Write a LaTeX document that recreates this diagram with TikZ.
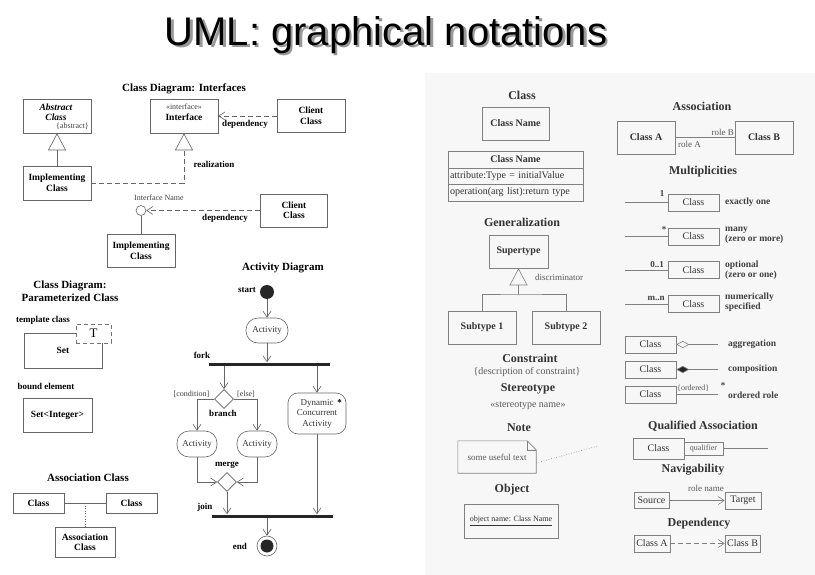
\documentclass[tikz,border=0pt]{standalone}
\usepackage{fontspec}
\setmainfont{Liberation Serif}
\setsansfont{Liberation Sans}
\usetikzlibrary{arrows.meta,shapes.geometric}
\begin{document}
\begin{tikzpicture}[x=1pt,y=-1pt,
  ln/.style={draw=black!60, line width=0.6pt},
  lb/.style={ln, rectangle, inner sep=1pt, align=center, text=black, font=\fontsize{9.5}{10.5}\selectfont\bfseries},
  ttl/.style={font=\fontsize{11}{13}\selectfont\bfseries, inner sep=0pt, align=center},
  lab/.style={font=\fontsize{9}{10}\selectfont\bfseries, inner sep=0pt},
  sm/.style={font=\fontsize{8}{9}\selectfont, inner sep=0pt, text=black!75},
  act/.style={ln, rectangle, rounded corners=12pt, inner sep=1pt, align=center, font=\fontsize{9}{10.5}\selectfont, text=black!80},
  dia/.style={ln, diamond, minimum size=19pt, inner sep=0pt},
  bar/.style={fill=black!85, inner sep=0pt, minimum height=3pt},
  arr/.style={ln, -{Straight Barb[length=6pt,width=8pt]}},
  gen/.style={ln, -{Triangle[open,length=17pt,width=18pt]}},
  dsh/.style={dash pattern=on 5pt off 3pt},
  rb/.style={draw=black!50, line width=0.6pt, rectangle, inner sep=1pt, align=center, text=black!80, font=\fontsize{10}{11}\selectfont},
  rbb/.style={rb, font=\fontsize{10}{11}\selectfont\bfseries},
  rt/.style={font=\fontsize{12}{13}\selectfont\bfseries, text=black!80, inner sep=0pt},
  rs/.style={font=\fontsize{9}{10}\selectfont, text=black!65, inner sep=0pt},
  rm/.style={font=\fontsize{9}{10}\selectfont\bfseries, text=black!75, inner sep=0pt},
  rd/.style={font=\fontsize{9.5}{10}\selectfont\bfseries, text=black!75, inner sep=0pt, align=left, anchor=west}
]
\useasboundingbox (0,0) rectangle (815,575);
\fill[white] (0,0) rectangle (815,575);
\fill[black!3] (425,73) rectangle (815,575);

% Title with drop shadow (one node)
\node[font=\fontsize{40}{44}\selectfont\sffamily, text=black, inner sep=0pt] (title) at (386,36)
  {\makebox[0pt][l]{\raisebox{-2.5pt}{\hspace{2.5pt}\textcolor{black!40}{UML: graphical notations}}}UML: graphical notations};

% ---- Class Diagram: Interfaces
\node[ttl] (t1) at (184,89) {Class Diagram: Interfaces};
\node[lb, minimum width=68, minimum height=34] (abs) at (57,116) {};
\node[font=\fontsize{9.5}{10}\selectfont\bfseries\itshape, align=center, inner sep=0pt] (abst) at (56,112) {Abstract\\Class};
\node[sm, anchor=east] (absl) at (89,126) {\{abstract\}};
\node[lb, minimum width=68, minimum height=34] (impl) at (57,183) {Implementing\\Class};
\draw[gen] (impl) -- (abs);
\node[lb, minimum width=68, minimum height=34] (iface) at (184,116) {};
\node[sm] (ifs) at (184,107) {«interface»};
\node[lab, font=\fontsize{9.5}{10}\selectfont\bfseries] (ifn1) at (184,117) {Interface};
\draw[gen, dsh] (impl.east) -| (iface.south);
\node[lb, minimum width=68, minimum height=33] (cl1) at (311,116) {Client\\Class};
\draw[arr, dsh] (cl1) -- (iface);
\node[lab] (dep1) at (245,124) {dependency};
\node[lab] (real) at (214,164) {realization};

\node[sm] (ifn) at (159,198) {Interface Name};
\node[ln, circle, minimum size=10, inner sep=0pt] (lol) at (141,210.5) {};
\node[lb, minimum width=68, minimum height=33] (impl2) at (141,251) {Implementing\\Class};
\draw[ln] (lol) -- (impl2);
\node[lb, minimum width=67, minimum height=33] (cl2) at (294,210.5) {Client\\Class};
\draw[arr, dsh] (cl2) -- (lol);
\node[lab] (dep2) at (225,218) {dependency};

% ---- Parameterized class
\node[ttl] (t2) at (70,291) {Class Diagram:\\Parameterized Class};
\node[lab] (tcl) at (43,320) {template class};
\node[lb, minimum width=78, minimum height=35] (set) at (63,350.5) {\raisebox{-2pt}{Set}};
\node[draw=black!55, dash pattern=on 4pt off 3pt, fill=white, minimum width=35, minimum height=19, font=\fontsize{13}{13}\selectfont, inner sep=0pt] (T) at (93.5,333.5) {T};
\node[lab] (bnd) at (46,386) {bound element};
\node[lb, minimum width=69, minimum height=34] (seti) at (57.5,415) {Set<Integer>};

% ---- Association class
\node[ttl] (t3) at (88,478) {Association Class};
\node[lb, minimum width=51, minimum height=20] (ac1) at (38.5,503) {Class};
\node[lb, minimum width=51, minimum height=20] (ac2) at (131.5,503) {Class};
\draw[ln] (ac1) -- (ac2);
\node[lb, minimum width=60, minimum height=30] (acc) at (85,542) {Association\\Class};
\coordinate (acm) at (85,503);
\draw[ln, dotted] (acm) -- (acc);

% ---- Activity diagram
\node[ttl] (t4) at (283,268) {Activity Diagram};
\node[lab] (stl) at (247,290) {start};
\node[circle, fill=black!85, minimum size=14, inner sep=0pt] (st) at (267,292) {};
\node[act, minimum width=42, minimum height=25] (a1) at (267,330.5) {Activity};
\draw[arr] (st) -- (a1);
\node[bar, minimum width=121] (fork) at (269.5,364) {};
\node[lab] (forkl) at (202,355) {fork};
\draw[arr] (a1) -- (a1 |- fork.north);
\node[dia] (br) at (224,399) {};
\draw[arr] (br |- fork.south) -- (br.north);
\node[sm] (cnd) at (191.5,394) {[condition]};
\node[sm] (els) at (246,394) {[else]};
\node[lab] (brl) at (223,413) {branch};
\node[act, minimum width=40, minimum height=26] (a2) at (197,444) {Activity};
\node[act, minimum width=40, minimum height=26] (a3) at (257,444) {Activity};
\draw[arr] (br.west) -| (a2.north);
\draw[arr] (br.east) -| (a3.north);
\node[lab] (mgl) at (227,465) {merge};
\node[dia] (mg) at (227,482) {};
\draw[arr] (a2.south) |- (mg.west);
\draw[arr] (a3.south) |- (mg.east);
\node[bar, minimum width=121] (join) at (272.5,516) {};
\node[lab] (joinl) at (205,507) {join};
\draw[arr] (mg.south) -- (mg.south |- join.north);
\node[act, rounded corners=10pt, minimum width=58, minimum height=41] (dyn) at (317,413.5) {Dynamic\\Concurrent\\Activity};
\draw[arr] (dyn.north |- fork.south) -- (dyn.north);
\draw[arr] (dyn.south) -- (dyn.south |- join.north);
\node[font=\fontsize{9}{9}\selectfont\bfseries, inner sep=0pt] (ast) at (339.5,403) {*};
\node[circle, ln, minimum size=20, inner sep=0pt] (en) at (267,546) {};
\node[circle, fill=black!85, minimum size=13, inner sep=0pt] (enin) at (267,546) {};
\draw[arr] (en.north |- join.south) -- (en.north);
\node[lab] (enl) at (240,546) {end};

% ---- Right panel: Class
\node[rt] (rt1) at (522,95) {Class};
\node[rbb, minimum width=67, minimum height=33] (c1) at (515.5,123.5) {Class Name};
\node[rbb, minimum width=135, minimum height=17] (c2a) at (515.5,159.5) {Class Name};
\node[rb, minimum width=135, minimum height=16, text width=131, align=left] (c2b) at (515.5,176) {attribute:Type = initialValue};
\node[rb, minimum width=135, minimum height=17, text width=131, align=left] (c2c) at (515.5,192.5) {operation(arg list):return type};

% Generalization
\node[rt] (rt2) at (522,222) {Generalization};
\node[rbb, minimum width=59, minimum height=33] (sup) at (518.5,251.5) {Supertype};
\node[rbb, minimum width=68, minimum height=33] (sub1) at (482,327.5) {Subtype 1};
\node[rbb, minimum width=68, minimum height=33] (sub2) at (566,327.5) {Subtype 2};
\coordinate (gj) at (518.5,294);
\draw[ln, draw=black!50] (sub1.north) |- (gj) -| (sub2.north);
\draw[gen, draw=black!50] (gj) -- (sup.south);
\node[rs] (disc) at (559,277) {discriminator};

% Constraint, Stereotype
\node[rt] (rt3) at (530,358) {Constraint};
\node[rs, font=\fontsize{10}{11}\selectfont] (cons) at (527,372) {\{description of constraint\}};
\node[rt] (rt4) at (528,389) {Stereotype};
\node[rs, font=\fontsize{10}{11}\selectfont] (ster) at (528,406) {«stereotype name»};

% Note
\node[rt] (rt5) at (519,428) {Note};
\node[rs, minimum width=78, minimum height=32] (note) at (497,457) {some useful text};
\draw[ln, draw=black!50] (note.north west) -- ([xshift=-9pt]note.north east) -- ([yshift=-9pt]note.north east) -- (note.south east) -- (note.south west) -- cycle;
\draw[ln, draw=black!50] ([xshift=-9pt]note.north east) |- ([yshift=-9pt]note.north east);
\coordinate (nend) at (598,446);
\draw[ln, draw=black!50, dotted] ([yshift=-6pt]note.east) -- (nend);

% Object
\node[rt] (rt6) at (512,490) {Object};
\node[rb, minimum width=94, minimum height=34, font=\fontsize{8}{9}\selectfont] (obj) at (511,521) {\underline{object name: Class Name}};

% Association
\node[rt] (rt7) at (702,106) {Association};
\node[rbb, minimum width=58, minimum height=33] (ca) at (646,137.5) {Class A};
\node[rbb, minimum width=58, minimum height=33] (cb) at (764,137.5) {Class B};
\draw[ln, draw=black!50] (ca) -- (cb);
\node[rs, anchor=south east] (rlb) at (734,136) {role B};
\node[rs, anchor=north west] (rla) at (678,141) {role A};

% Multiplicities
\node[rt] (rt8) at (703,172) {Multiplicities};
\node[rb, minimum width=51, minimum height=17] (m1) at (693.5,202.5) {Class};
\coordinate (m1s) at (625,202.5);
\draw[ln, draw=black!50] (m1s) -- (m1);
\node[rm] (m1l) at (662,194) {1};
\node[rd] (m1d) at (725,202) {exactly one};

\node[rb, minimum width=51, minimum height=17] (m2) at (693.5,236.5) {Class};
\coordinate (m2s) at (625,236.5);
\draw[ln, draw=black!50] (m2s) -- (m2);
\node[rm] (m2l) at (664,230) {*};
\node[rd] (m2d) at (725,235) {many\\(zero or more)};

\node[rb, minimum width=51, minimum height=17] (m3) at (693.5,270) {Class};
\coordinate (m3s) at (625,270);
\draw[ln, draw=black!50] (m3s) -- (m3);
\node[rm] (m3l) at (657,265) {0..1};
\node[rd] (m3d) at (725,270) {optional\\(zero or one)};

\node[rb, minimum width=51, minimum height=17] (m4) at (693.5,304) {Class};
\coordinate (m4s) at (625,304);
\draw[ln, draw=black!50] (m4s) -- (m4);
\node[rm] (m4l) at (656,298) {m..n};
\node[rd] (m4d) at (725,302) {numerically\\specified};

% Aggregation, composition, ordered
\node[rb, minimum width=51, minimum height=17] (ag) at (650.5,344.5) {Class};
\coordinate (age) at (718,344.5);
\draw[ln, draw=black!50, {Diamond[open,length=13pt,width=7pt]}-] (ag) -- (age);
\node[rd] (agd) at (728,344) {aggregation};

\node[rb, minimum width=51, minimum height=17] (cp) at (650.5,369.5) {Class};
\coordinate (cpe) at (718,369.5);
\draw[ln, draw=black!50, {Diamond[length=13pt,width=7pt,fill=black!85]}-] (cp) -- (cpe);
\node[rd] (cpd) at (728,369) {composition};

\node[rb, minimum width=51, minimum height=17] (ordc) at (650.5,394.5) {Class};
\coordinate (orde) at (718,394.5);
\draw[ln, draw=black!50] (ordc) -- (orde);
\node[rs, font=\fontsize{8}{9}\selectfont, anchor=west] (ordl) at (677,388) {\{ordered\}};
\node[rm] (ords) at (723,386) {*};
\node[rd] (ordd) at (728,395) {ordered role};

% Qualified association
\node[rt] (rt9) at (703,426) {Qualified Association};
\node[rb, minimum width=51, minimum height=21] (qc) at (658.5,448.5) {Class};
\node[rb, minimum width=39, minimum height=13, font=\fontsize{8}{8}\selectfont, inner sep=0.5pt, text=black!65] (q) at (703.5,448.5) {qualifier};
\coordinate (qe) at (768,448.5);
\draw[ln, draw=black!50] (q) -- (qe);

% Navigability
\node[rt] (rt10) at (693,470) {Navigability};
\node[rb, minimum width=35, minimum height=16] (src) at (651.5,500.5) {Source};
\node[rb, minimum width=36, minimum height=17] (tgt) at (743,500.5) {Target};
\draw[arr, draw=black!50] (src) -- (tgt);
\node[rs] (rn) at (706,488) {role name};

% Dependency
\node[rt] (rt11) at (699,524) {Dependency};
\node[rb, minimum width=36, minimum height=17] (da) at (652,543.5) {Class A};
\node[rb, minimum width=35, minimum height=17] (db) at (742.5,543.5) {Class B};
\draw[arr, draw=black!50, dsh] (da) -- (db);
\end{tikzpicture}
\end{document}
